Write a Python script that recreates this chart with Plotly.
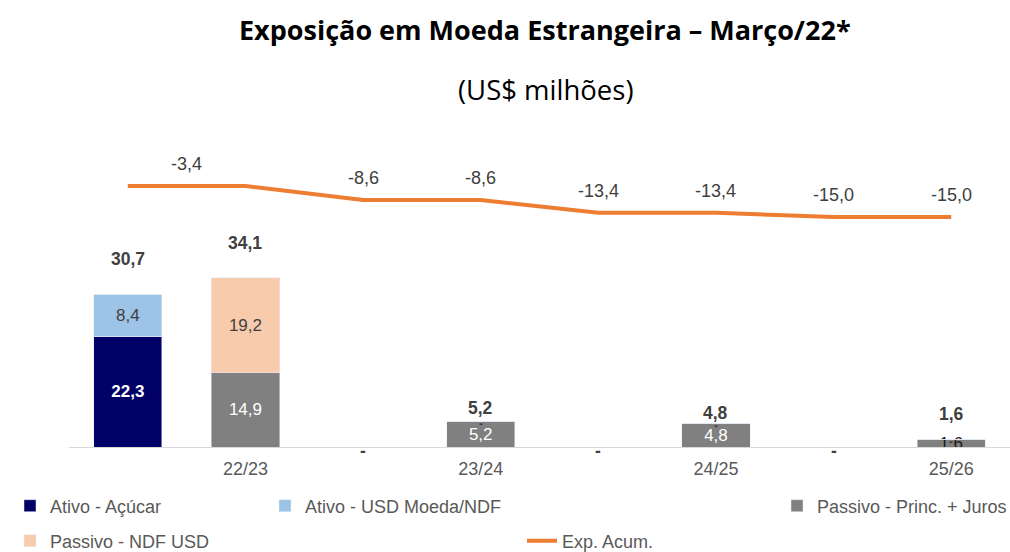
import plotly.graph_objects as go

# ---- data ----
positions = [0, 1, 2, 3, 4, 5, 6, 7]
periods = ["", "22/23", "", "23/24", "", "24/25", "", "25/26"]
ativo_acucar = [22.3, 0, 0, 0, 0, 0, 0, 0]
ativo_usd = [8.4, 0, 0, 0, 0, 0, 0, 0]
passivo_princ = [0, 14.9, 0, 5.2, 0, 4.8, 0, 1.6]
passivo_ndf = [0, 19.2, 0, 0, 0, 0, 0, 0]
exp_acum = [-3.4, -3.4, -8.6, -8.6, -13.4, -13.4, -15.0, -15.0]

# ---- style ----
C_NAVY = "#000066"
C_LBLUE = "#9DC3E6"
C_GRAY = "#808080"
C_PEACH = "#F8CBAD"
C_ORANGE = "#ED7D31"
TXT = "#404040"
FONT = "Liberation Sans"
total_label_shift = [35, 35, -4, 13, -4, 10, -4, 25]
line_label_shift = 22

W, H = 1010, 552
ML, MR, MT, MB = 69, 0, 130, 105
PW, PH = W - ML - MR, H - MT - MB


def px_x(px):
    return (px - ML) / PW


def px_y(py):
    return (H - MB - py) / PH


def fmt(v):
    return f"{v:.1f}".replace(".", ",")


def lab(vals):
    return [fmt(v) if v else "" for v in vals]


totals = [a + b + c + d for a, b, c, d in zip(ativo_acucar, ativo_usd, passivo_princ, passivo_ndf)]

fig = go.Figure()

fig.add_trace(go.Bar(
    x=positions, y=ativo_acucar, name="Ativo - Açúcar", marker_color=C_NAVY,
    text=lab(ativo_acucar), textposition="inside", insidetextanchor="middle",
    textfont=dict(color="white", size=17, family=FONT, weight="bold"),
    constraintext="none", legend="legend"))
fig.add_trace(go.Bar(
    x=positions, y=passivo_princ, name="Passivo - Princ. + Juros", marker_color=C_GRAY,
    text=lab(passivo_princ), textposition="inside", insidetextanchor="middle",
    textfont=dict(color=["white"] * 7 + ["#1a1a1a"], size=17, family=FONT),
    constraintext="none", legend="legend3"))
fig.add_trace(go.Bar(
    x=positions, y=ativo_usd, name="Ativo - USD Moeda/NDF", marker_color=C_LBLUE,
    text=lab(ativo_usd), textposition="inside", insidetextanchor="middle",
    textfont=dict(color=TXT, size=17, family=FONT),
    constraintext="none", legend="legend2"))
fig.add_trace(go.Bar(
    x=positions, y=passivo_ndf, name="Passivo - NDF USD", marker_color=C_PEACH,
    text=lab(passivo_ndf), textposition="inside", insidetextanchor="middle",
    textfont=dict(color=TXT, size=17, family=FONT),
    constraintext="none", legend="legend4"))
fig.add_trace(go.Scatter(
    x=positions, y=exp_acum, name="Exp. Acum.", mode="lines",
    line=dict(color=C_ORANGE, width=4), yaxis="y2", legend="legend5"))

annotations = []
# totals
for x, t, s in zip(positions, totals, total_label_shift):
    annotations.append(dict(
        x=x, y=t, xref="x", yref="y", text=f"<b>{fmt(t)}</b>" if t else "<b>-</b>",
        showarrow=False, yshift=s, yanchor="middle",
        font=dict(size=17.5, color=TXT, family=FONT)))
# small dashes for zero-valued NDF on top of princ bars
for x, p, n, t in zip(positions, passivo_princ, passivo_ndf, totals):
    if p and not n and x > 1:
        annotations.append(dict(
            x=x, y=t, xref="x", yref="y", text="<b>-</b>", showarrow=False,
            yshift=-3, yanchor="middle", font=dict(size=12, color=TXT, family=FONT)))
# line labels
line_lbl_x = [(positions[0] + positions[1]) / 2] + positions[2:]
line_lbl_v = [exp_acum[1]] + exp_acum[2:]
for x, v in zip(line_lbl_x, line_lbl_v):
    annotations.append(dict(
        x=x, y=v, xref="x", yref="y2", text=fmt(v), showarrow=False,
        yshift=line_label_shift, yanchor="middle",
        font=dict(size=18, color=TXT, family=FONT)))
# titles
annotations.append(dict(
    x=px_x(545), y=px_y(30), xref="paper", yref="paper",
    text="<b>Exposição em Moeda Estrangeira – Março/22*</b>", showarrow=False,
    xanchor="center", yanchor="middle", font=dict(size=27, color="black", family="Open Sans")))
annotations.append(dict(
    x=px_x(546), y=px_y(90), xref="paper", yref="paper",
    text="(US$ milhões)", showarrow=False,
    xanchor="center", yanchor="middle", font=dict(size=27.5, color="black", family="Open Sans")))


def leg(px, py):
    return dict(x=px / W, y=1 - py / H, xref="container", yref="container",
                xanchor="left", yanchor="middle", bgcolor="rgba(0,0,0,0)",
                font=dict(size=18, color="#595959", family=FONT), itemwidth=30)


fig.update_layout(
    width=W, height=H,
    margin=dict(l=ML, r=MR, t=MT, b=MB, autoexpand=False),
    paper_bgcolor="white", plot_bgcolor="white",
    barmode="stack", bargap=0.42,
    font=dict(family=FONT, color=TXT),
    xaxis=dict(range=[-0.5, 7.5], tickvals=positions, ticktext=periods,
               showgrid=False, zeroline=False, showline=True, linecolor="#D9D9D9",
               linewidth=1, ticks="", ticklabelstandoff=5, automargin=False,
               tickfont=dict(size=18, color="#595959", family=FONT)),
    yaxis=dict(range=[0, 63.8], visible=False, showgrid=False, zeroline=False),
    yaxis2=dict(range=[-100.8, 17.5], overlaying="y", side="right", visible=False,
                showgrid=False, zeroline=False),
    annotations=annotations,
    showlegend=True,
    legend=leg(10, 506),
    legend2=leg(265, 506),
    legend3=leg(777, 506),
    legend4=leg(10, 541),
    legend5=leg(522, 541),
)

fig.write_html("out.html", post_script="document.body.style.margin='0';",
               config={"displayModeBar": False})
